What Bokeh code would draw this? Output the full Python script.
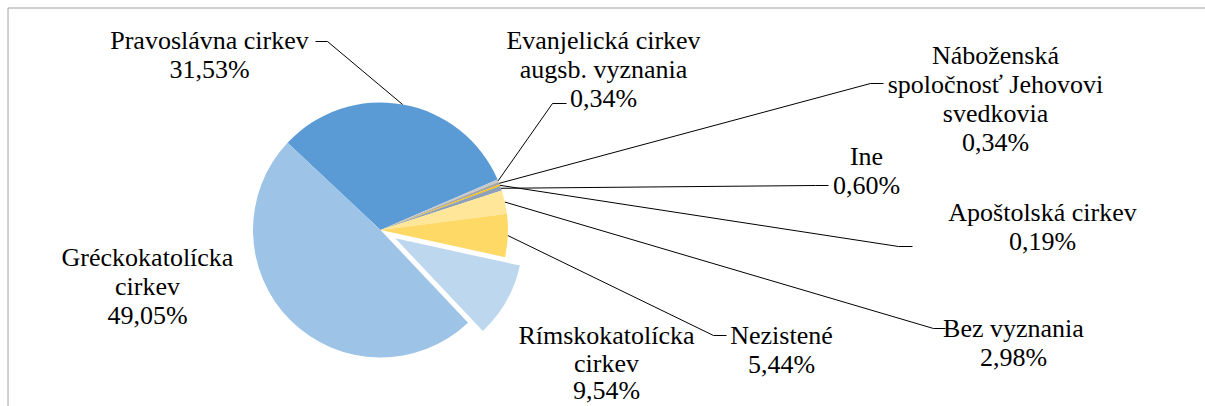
import math
from bokeh.plotting import figure
from bokeh.models import Range1d
from bokeh.embed import file_html
from bokeh.resources import INLINE
from bokeh.core.properties import value

# ---------------- data ----------------
names = [
    "Pravoslávna cirkev",
    "Evanjelická cirkev\naugsb. vyznania",
    "Náboženská\nspoločnosť Jehovovi\nsvedkovia",
    "Apoštolská cirkev",
    "Ine",
    "Bez vyznania",
    "Nezistené",
    "Rímskokatolícka\ncirkev",
    "Gréckokatolícka\ncirkev",
]
shares = [31.53, 0.34, 0.34, 0.19, 0.60, 2.98, 5.44, 9.54, 49.05]
colors = ["#5B9BD5", "#C9C9C9", "#A5A5A5", "#FFC000", "#8EA0B8",
          "#FFE699", "#FFD966", "#BDD7EE", "#9DC3E6"]
exploded = [0, 0, 0, 0, 0, 0, 0, 17, 0]

# ---------------- layout ----------------
W, H = 1205, 406


def Y(py):
    return H - py


p = figure(width=W, height=H, output_backend="svg", toolbar_location=None,
           x_range=Range1d(0, W), y_range=Range1d(0, H),
           x_axis_type=None, y_axis_type=None, min_border=0,
           outline_line_color=None, background_fill_color="white")
p.grid.visible = False

# frame (top and left edges visible)
p.line([7.5, 7.5], [Y(406), Y(7.5)], line_color="#A0A0A0", line_width=1)
p.line([7.5, 1205], [Y(7.5), Y(7.5)], line_color="#A0A0A0", line_width=1)

cx, cy, R = 380.0, 229.5, 127.5
start_deg = 136.8
total = sum(shares)

mids = []
acc = 0.0
for v, col, ex in zip(shares, colors, exploded):
    a0 = start_deg - acc / total * 360.0
    a1 = a0 - v / total * 360.0
    am = (a0 + a1) / 2
    mids.append(am)
    ox = ex * math.cos(math.radians(am))
    oy = ex * math.sin(math.radians(am))
    p.wedge(x=[cx + ox], y=[Y(cy) + oy], radius=R,
            start_angle=[math.radians(a0)], end_angle=[math.radians(a1)],
            direction="clock", fill_color=col, line_color=None)
    acc += v


def edge(i):
    a = math.radians(mids[i])
    return cx + R * math.cos(a), cy - R * math.sin(a)


# leader lines: (slice index, elbow, end) in page pixels
leaders = [
    (0, (327, 41), (315, 41)),
    (1, (552, 103), (566, 103)),
    (2, (870, 83), (883, 83)),
    (4, (815, 185), (828, 185)),
    (3, (898, 246), (912, 246)),
    (5, (933, 328), (945, 328)),
    (6, (713, 335), (726, 335)),
]
for i, el, en in leaders:
    sx, sy = edge(i)
    p.line([sx, el[0], en[0]], [Y(sy), Y(el[1]), Y(en[1])],
           line_color="black", line_width=1)

# labels: center x, first baseline, line step (page px)
label_pos = [
    (209, 40, 29), (603, 40, 29), (995, 55, 29), (1042, 212, 29),
    (866, 156, 29), (1013, 328, 29), (781, 335, 29), (606, 335, 27.5),
    (147, 257, 29),
]
xs, ys, ts = [], [], []
for name, v, (lx, ly, st) in zip(names, shares, label_pos):
    lines = name.split("\n") + [f"{v:.2f}".replace(".", ",") + "%"]
    for k, t in enumerate(lines):
        xs.append(lx)
        ys.append(Y(ly + k * st))
        ts.append(t)

p.text(x=xs, y=ys, text=ts, text_align="center", text_baseline="alphabetic",
       text_font=value("Liberation Serif"), text_font_size="26px",
       text_color="black")

open("out.html", "w").write(file_html(p, INLINE))
